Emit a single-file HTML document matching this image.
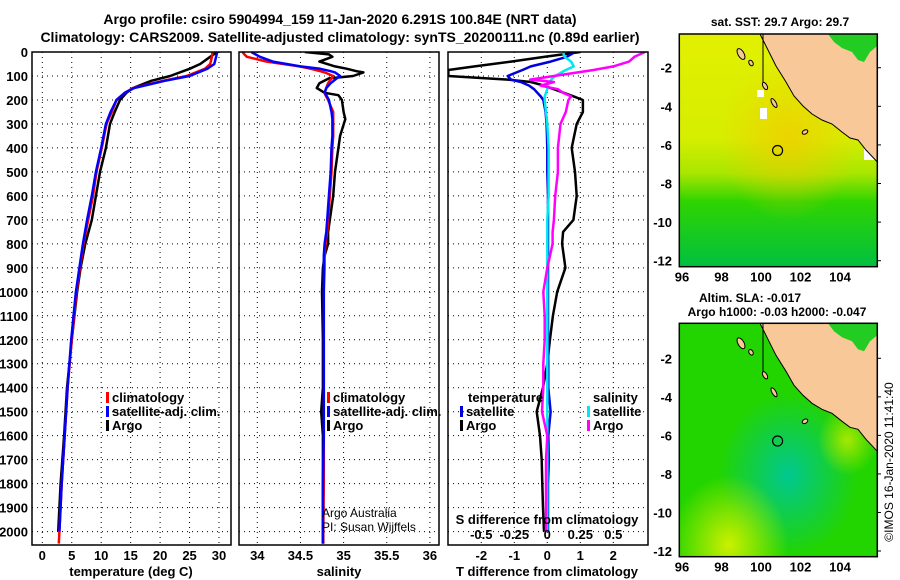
<!DOCTYPE html>
<html><head><meta charset="utf-8"><style>
html,body{margin:0;padding:0;background:#fff;}
svg{display:block;font-family:"Liberation Sans",Arial,sans-serif;}
</style></head><body>
<svg id="chart" width="900" height="580" viewBox="0 0 900 580">
<defs>
<clipPath id="c1"><rect x="32" y="52" width="199" height="493"/></clipPath>
<clipPath id="c2"><rect x="239" y="52" width="200" height="493"/></clipPath>
<clipPath id="c3"><rect x="448" y="52" width="200" height="493"/></clipPath>
<linearGradient id="sstg" x1="0" y1="0" x2="0" y2="1">
<stop offset="0" stop-color="#e2f000"/><stop offset="0.45" stop-color="#d6ee00"/><stop offset="0.6" stop-color="#a8e600"/><stop offset="0.72" stop-color="#2fd400"/><stop offset="1" stop-color="#00c040"/></linearGradient>
<radialGradient id="sstor" cx="0.55" cy="0.45" r="0.35"><stop offset="0" stop-color="#f5c800" stop-opacity="0.7"/><stop offset="1" stop-color="#f5c800" stop-opacity="0"/></radialGradient>
<radialGradient id="slateal" cx="0.55" cy="0.65" r="0.35"><stop offset="0" stop-color="#00c890"/><stop offset="1" stop-color="#00c890" stop-opacity="0"/></radialGradient>
<radialGradient id="slayel" cx="0.25" cy="0.95" r="0.3"><stop offset="0" stop-color="#ccf000"/><stop offset="1" stop-color="#ccf000" stop-opacity="0"/></radialGradient>
<radialGradient id="slayel2" cx="0.85" cy="0.5" r="0.15"><stop offset="0" stop-color="#a6e800"/><stop offset="1" stop-color="#a6e800" stop-opacity="0"/></radialGradient>
</defs>
<g id="titles">
<text font-weight="bold" x="340" y="24" font-size="14" text-anchor="middle">Argo profile: csiro 5904994_159 11-Jan-2020 6.291S 100.84E (NRT data)</text>
<text font-weight="bold" x="340" y="42" font-size="14" text-anchor="middle">Climatology: CARS2009. Satellite-adjusted climatology: synTS_20200111.nc (0.89d earlier)</text>
</g>
<g id="grids"></g>
<g id="series"></g>
<g id="frames"></g>
<g id="labels"></g>
<g id="maps"></g>
</svg>
<script>
// ---- data ----
const tempDepth = [0,20,50,70,100,120,150,170,200,250,300,400,500,600,700,800,900,1000,1200,1400,1600,1800,2000,2050];
const climT = [28.9,28.8,28.5,27.6,24.5,20.5,15.4,14.0,12.6,11.8,10.9,10.1,9.2,8.6,7.8,7.0,6.4,5.8,5.0,4.3,3.8,3.3,2.9,2.8];
const satTDepth = [0,20,50,70,100,120,150,170,200,250,300,400,500,600,700,800,900,1000,1200,1400,1600,1800,2000];
const satT  = [29.7,29.5,29.2,28.0,25.0,20.8,15.6,14.0,12.6,11.6,10.8,10.0,9.1,8.4,7.6,6.9,6.3,5.7,4.9,4.3,3.8,3.3,2.9];
const argoTDepth = [0,20,50,70,100,120,150,170,200,250,300,400,500,600,700,800,900,1000,1200,1400,1600,1800,2000];
const argoT = [29.7,28.5,26.8,25.0,21.7,18.5,15.4,14.3,13.2,12.3,11.5,10.8,9.8,9.1,8.4,7.3,6.5,5.9,5.0,4.2,3.7,3.1,2.7];

const salDepth = [0,10,20,40,60,70,80,85,100,110,130,150,170,180,200,250,280,350,400,500,600,700,750,800,850,900,1000,1200,1400,1500,1600,1800,2000,2050];
const climS = [33.83,33.85,33.88,34.11,34.49,34.62,34.73,34.78,34.88,34.86,34.82,34.8,34.78,34.79,34.82,34.88,34.88,34.88,34.87,34.86,34.84,34.82,34.81,34.79,34.78,34.78,34.77,34.77,34.77,34.77,34.77,34.77,34.765,34.765];
const satS  = [33.93,33.98,34.03,34.18,34.5,34.73,34.85,34.9,34.96,34.92,34.85,34.8,34.78,34.8,34.83,34.86,34.87,34.87,34.86,34.85,34.83,34.81,34.8,34.78,34.77,34.77,34.77,34.77,34.77,34.77,34.77,34.76,34.76,34.76];
const argoS = [34.55,34.83,34.87,34.72,34.9,35.04,35.15,35.23,35.11,34.83,34.72,34.69,34.78,34.94,34.98,35.0,35.02,34.96,34.94,34.9,34.88,34.84,34.82,34.82,34.78,34.76,34.75,34.76,34.76,34.74,34.76,34.76,34.76,34.76];

const diffDepth = [0,20,40,60,75,100,115,125,140,155,170,185,200,250,300,400,500,600,700,750,800,900,1000,1100,1200,1300,1400,1500,1600,1700,1800,1900,2000];
const argoDT = [1.0,-0.07,-1.1,-2.2,-3.0,-3.0,-1.2,-0.5,-0.1,0.2,0.5,0.8,1.08,1.08,0.89,0.74,0.84,0.89,0.79,0.48,0.45,0.55,0.3,0.17,0.08,0.0,-0.13,-0.32,-0.22,-0.17,-0.15,-0.13,-0.1];
const satDT  = [0.84,0.59,0.1,-0.5,-0.75,-1.2,-1.1,-0.8,-0.55,-0.4,-0.3,-0.2,-0.12,-0.05,-0.02,0.0,0.0,0.02,0.02,0.02,0.02,0.02,0.02,0.02,0.02,0.03,0.03,0.1,0.03,0.05,0.02,0.02,0.02];
const satDS  = [0.12,0.13,0.18,0.2,0.14,0.06,0.03,0.02,0.0,0.0,-0.01,-0.02,-0.02,-0.01,0.0,0.01,0.01,0.01,0.0,0.0,0.0,0.0,0.0,0.0,0.0,0.0,0.0,0.0,0.0,0.0,0.0,0.0,0.0];
const argoDS = [0.74,0.66,0.62,0.5,0.35,0.05,-0.13,0.05,-0.05,0.08,0.12,0.18,0.16,0.14,0.1,0.08,0.08,0.06,0.05,0.04,0.04,0.0,-0.03,-0.02,-0.02,-0.03,-0.03,-0.04,0.0,-0.01,-0.01,-0.01,-0.01];

const depthTicks = [0,100,200,300,400,500,600,700,800,900,1000,1100,1200,1300,1400,1500,1600,1700,1800,1900,2000];
const tempTicks = [0,5,10,15,20,25,30];
const salTicks = [34,34.5,35,35.5,36];
const dTTicks = [-2,-1,0,1,2];
const dSTicks = [-0.5,-0.25,0,0.25,0.5];
const dSTickLabels = ["-0.5","-0.25","0","0.25","0.5"];
const latTicks = [-2,-4,-6,-8,-10,-12];
const lonTicks = [96,98,100,102,104];

// ---- scales ----
const NS="http://www.w3.org/2000/svg";
const yD = d => 52 + d*0.2398;
const xT = t => 42.3 + t*5.89;
const xS = s => 257.3 + (s-34)*86.3;
const xDT = t => 547.3 + t*33;
const xDS = s => 547.3 + s*132;
const mx = lon => 682 + (lon-96)*19.75;
const my1 = lat => 67.7 + (-2-lat)*19.3;
const my2 = lat => 358.3 + (-2-lat)*19.27;

function mk(tag, attrs, parent){const e=document.createElementNS(NS,tag);for(const k in attrs)e.setAttribute(k,attrs[k]);parent.appendChild(e);return e;}
const G=id=>document.getElementById(id);
const grids=G('grids'), series=G('series'), frames=G('frames'), labels=G('labels'), maps=G('maps');
const dot={stroke:'#000','stroke-width':1,'stroke-dasharray':'1,4'};

const panels=[{x0:32,x1:231,vx:tempTicks.map(xT)},{x0:239,x1:439,vx:salTicks.map(xS)},{x0:448,x1:648,vx:dTTicks.map(xDT)}];
panels.forEach((p,i)=>{
  depthTicks.forEach(d=>{const l=mk('line',Object.assign({x1:p.x0,x2:p.x1,y1:yD(d),y2:yD(d)},dot),grids);
    
    });
  p.vx.forEach(x=>{const l=mk('line',Object.assign({x1:x,x2:x,y1:52,y2:545},dot),grids);
    
    });
  const r=mk('rect',{x:p.x0,y:52,width:p.x1-p.x0,height:493,fill:'none',stroke:'#000','stroke-width':1.5},frames);
  
  
});

function poly(xs,ds,xf,color,clip,name,w){
  const pts=xs.map((v,i)=>xf(v).toFixed(1)+','+yD(ds[i]).toFixed(1)).join(' ');
  const p=mk('polyline',{points:pts,fill:'none',stroke:color,'stroke-width':w||2.5,'stroke-linejoin':'round','clip-path':'url(#'+clip+')'},series);
  
  
}
poly(argoT,argoTDepth,xT,'#000','c1','argo-temperature-line');
poly(climT,tempDepth,xT,'#ff0000','c1','climatology-temperature-line');
poly(satT,satTDepth,xT,'#0000ff','c1','satellite-temperature-line');
poly(argoS,salDepth,xS,'#000','c2','argo-salinity-line');
poly(climS,salDepth,xS,'#ff0000','c2','climatology-salinity-line');
poly(satS,salDepth,xS,'#0000ff','c2','satellite-salinity-line');
poly(argoDT,diffDepth,xDT,'#000','c3','argo-t-diff-line');
poly(satDT,diffDepth,xDT,'#0000dd','c3','satellite-t-diff-line');
poly(satDS,diffDepth,xDS,'#00e8f0','c3','satellite-s-diff-line');
poly(argoDS,diffDepth,xDS,'#ff00ff','c3','argo-s-diff-line');

function txt(s,x,y,size,anchor,name,bold,parent){
  const t=mk('text',{x:x,y:y,'font-size':size,'text-anchor':anchor||'start'},parent||labels);
  if(bold!==false)t.setAttribute('font-weight','bold');
  t.textContent=s;
  
  
  return t;
}
depthTicks.forEach(d=>txt(String(d),28,yD(d)+5,13,'end','depth-tick-label'));
tempTicks.forEach(t=>txt(String(t),xT(t),560,13,'middle','temperature-tick-label'));
salTicks.forEach(s=>txt(String(s),xS(s),560,13,'middle','salinity-tick-label'));
dTTicks.forEach(t=>txt(String(t),xDT(t),560,13,'middle','t-diff-tick-label'));
dSTicks.forEach((s,i)=>txt(dSTickLabels[i],xDS(s),539,13,'middle','s-diff-tick-label'));
txt('temperature (deg C)',131,576,13,'middle','temperature-axis-title');
txt('salinity',339,576,13,'middle','salinity-axis-title');
txt('T difference from climatology',547,576,13,'middle','t-diff-axis-title');
txt('S difference from climatology',547,524,13,'middle','s-diff-axis-title');
txt('Argo Australia',322,517,12,'start','credit-argo-australia',false);
txt('PI: Susan Wijffels',322,531,12,'start','credit-pi',false);

function leg(x,y,color,label,name){
  const r=mk('rect',{x:x,y:y-10,width:3,height:11,fill:color},labels);
  
  
  txt(label,x+6,y,13,'start',name);
}
leg(106,402,'#ff0000','climatology','legend-climatology');
leg(106,416,'#0000ff','satellite-adj. clim.','legend-satellite-adj');
leg(106,430,'#000','Argo','legend-argo');
leg(327,402,'#ff0000','climatology','legend-climatology-sal');
leg(327,416,'#0000ff','satellite-adj. clim.','legend-satellite-adj-sal');
leg(327,430,'#000','Argo','legend-argo-sal');
txt('temperature',468,402,13,'start','legend-temperature-header');
leg(460,416,'#0000dd','satellite','legend-t-satellite');
leg(460,430,'#000','Argo','legend-t-argo');
txt('salinity',593,402,13,'start','legend-salinity-header');
leg(587,416,'#00e8f0','satellite','legend-s-satellite');
leg(587,430,'#ff00ff','Argo','legend-s-argo');

// ---- maps ----
function mapPanel(top,bottom,my,kind){
  const g=mk('g',{},maps);
  
  
  const w=877.3-679.3,h=bottom-top;
  const o=top-34;
  if(kind==='sst'){
    mk('rect',{x:679.3,y:top,width:w,height:h,fill:'url(#sstg)'},g);
    mk('rect',{x:679.3,y:top,width:w,height:h,fill:'url(#sstor)'},g);
    mk('rect',{x:757,y:90,width:7,height:7,fill:'#fff'},g);
    mk('rect',{x:760,y:108,width:7,height:11,fill:'#fff'},g);
    mk('rect',{x:864,y:140,width:13,height:20,fill:'#fff'},g);
  } else {
    mk('rect',{x:679.3,y:top,width:w,height:h,fill:'#22d400'},g);
    mk('rect',{x:679.3,y:top,width:w,height:h,fill:'url(#slateal)'},g);
    mk('rect',{x:679.3,y:top,width:w,height:h,fill:'url(#slayel)'},g);
    mk('rect',{x:679.3,y:top,width:w,height:h,fill:'url(#slayel2)'},g);
  }
  const land=[[760,34],[768,50],[776,66],[786,82],[794,96],[803,106],[812,114],[822,120],[832,124],[842,132],[850,138],[858,140],[866,150],[877.3,162],[877.3,34]].map(p=>p[0]+','+(p[1]+o)).join(' ');
  mk('polygon',{points:land,fill:'#f9c898',stroke:'#000','stroke-width':1},g);
  const sea=[[828,34],[877.3,34],[877.3,46],[870,52],[864,62],[858,60],[852,52],[842,48],[834,42]].map(p=>p[0]+','+(p[1]+o)).join(' ');
  mk('polygon',{points:sea,fill:'#22cc22'},g);
  [[741,54,3,6],[751,63,2,3],[765,86,2,4],[774,103,2,5],[805,132,3,2]].forEach(e=>{
    mk('ellipse',{cx:e[0],cy:e[1]+o,rx:e[2],ry:e[3],fill:'#f9c898',stroke:'#000','stroke-width':1,transform:'rotate(-30 '+e[0]+' '+(e[1]+o)+')'},g);
  });
  mk('line',{x1:763,y1:34+o,x2:763,y2:83+o,stroke:'#000','stroke-width':1},g);
  const c=mk('circle',{cx:mx(100.84),cy:my(-6.291),r:5,fill:'none',stroke:'#000','stroke-width':1.2},g);
  
  
  const f=mk('rect',{x:679.3,y:top,width:w,height:h,fill:'none',stroke:'#000','stroke-width':1.5},g);
  
  
  latTicks.forEach(l=>{txt(String(l),672,my(l)+5,13,'end','lat-tick-label');
    mk('line',{x1:877.3,x2:881,y1:my(l),y2:my(l),stroke:'#000'},g);});
  lonTicks.forEach(l=>txt(String(l),mx(l),bottom+15,13,'middle','lon-tick-label'));
}
mapPanel(34,266.7,my1,'sst');
mapPanel(323.3,556.7,my2,'sla');
txt('sat. SST: 29.7 Argo: 29.7',780,26,12,'middle','sst-map-title');
txt('Altim. SLA: -0.017',750,302,12,'middle','sla-map-title');
txt('Argo h1000: -0.03 h2000: -0.047',777,316,12,'middle','sla-map-subtitle');
const cp=txt('©IMOS 16-Jan-2020 11:41:40',0,0,12,'middle','copyright-timestamp',false);
cp.setAttribute('transform','translate(893,462) rotate(-90)');
</script>
</body></html>
